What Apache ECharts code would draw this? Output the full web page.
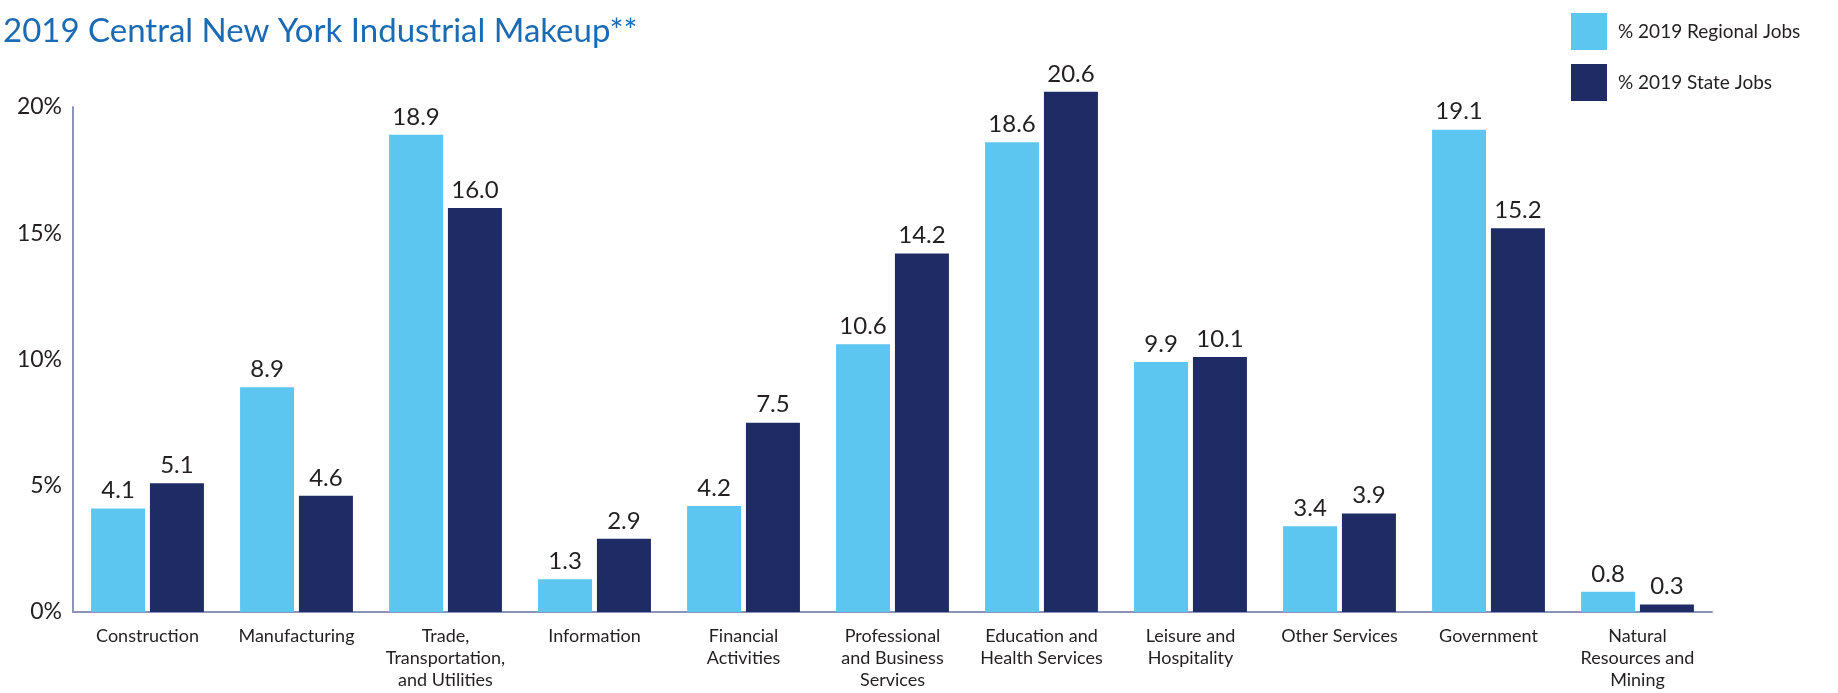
<!DOCTYPE html>
<html>
<head>
<meta charset="utf-8">
<script src="https://cdn.jsdelivr.net/npm/echarts@6/dist/echarts.min.js"></script>
<style>
  html, body { margin: 0; padding: 0; background: #ffffff; }
  #chart { width: 1838px; height: 693px; }
</style>
</head>
<body>
<div id="chart"></div>
<script>
// Industry sectors (x-axis categories)
const categories = [
  'Construction',
  'Manufacturing',
  'Trade,\nTransportation,\nand Utilities',
  'Information',
  'Financial\nActivities',
  'Professional\nand Business\nServices',
  'Education and\nHealth Services',
  'Leisure and\nHospitality',
  'Other Services',
  'Government',
  'Natural\nResources and\nMining'
];

// Share of 2019 jobs by sector (%)
const regionalJobs = [4.1, 8.9, 18.9, 1.3, 4.2, 10.6, 18.6, 9.9, 3.4, 19.1, 0.8];
const stateJobs    = [5.1, 4.6, 16.0, 2.9, 7.5, 14.2, 20.6, 10.1, 3.9, 15.2, 0.3];

// Y-axis ticks
const yTicks = [0, 5, 10, 15, 20];

const FONT = 'Lato, "Open Sans", sans-serif';
const TEXT = '#231f20';
const AXIS = '#8a95b8';

const chart = echarts.init(document.getElementById('chart'), null, { renderer: 'canvas' });

const valueLabel = {
  show: true,
  position: 'top',
  distance: 6,
  color: TEXT,
  fontFamily: FONT,
  fontSize: 24,
  formatter: p => p.value.toFixed(1)
};

chart.setOption({
  animation: false,
  title: {
    text: '2019 Central New York Industrial Makeup**',
    left: -2,
    top: 10,
    textStyle: { color: '#1b6ab4', fontFamily: FONT, fontSize: 33, fontWeight: 'normal' }
  },
  legend: {
    orient: 'vertical',
    left: 1566,
    top: 8,
    itemWidth: 36,
    itemHeight: 37,
    itemGap: 14,
    icon: 'rect',
    textStyle: { color: TEXT, fontFamily: FONT, fontSize: 19, padding: [0, 0, 0, 6] },
    data: ['% 2019 Regional Jobs', '% 2019 State Jobs']
  },
  grid: { left: 73, right: 126, top: 107, bottom: 81, containLabel: false },
  xAxis: {
    type: 'category',
    data: categories,
    axisLine: { show: true, lineStyle: { color: AXIS, width: 2 } },
    axisTick: { show: false },
    axisLabel: {
      interval: 0,
      margin: 13,
      color: TEXT,
      fontFamily: FONT,
      fontSize: 18,
      lineHeight: 22
    }
  },
  yAxis: {
    type: 'value',
    min: yTicks[0],
    max: yTicks[yTicks.length - 1],
    interval: yTicks[1] - yTicks[0],
    axisLine: { show: true, lineStyle: { color: AXIS, width: 2 } },
    axisTick: { show: false },
    splitLine: { show: false },
    axisLabel: {
      margin: 11,
      color: TEXT,
      fontFamily: FONT,
      fontSize: 23,
      padding: [10, 0, 0, 0],
      formatter: v => v + '%'
    }
  },
  series: [
    {
      name: '% 2019 Regional Jobs',
      type: 'bar',
      data: regionalJobs,
      barWidth: 54,
      barGap: '9%',
      clip: false,
      itemStyle: { color: '#5cc6f0' },
      label: valueLabel
    },
    {
      name: '% 2019 State Jobs',
      type: 'bar',
      data: stateJobs,
      barWidth: 54,
      barGap: '9%',
      clip: false,
      itemStyle: { color: '#1e2b64' },
      label: valueLabel
    }
  ]
});
</script>
</body>
</html>
